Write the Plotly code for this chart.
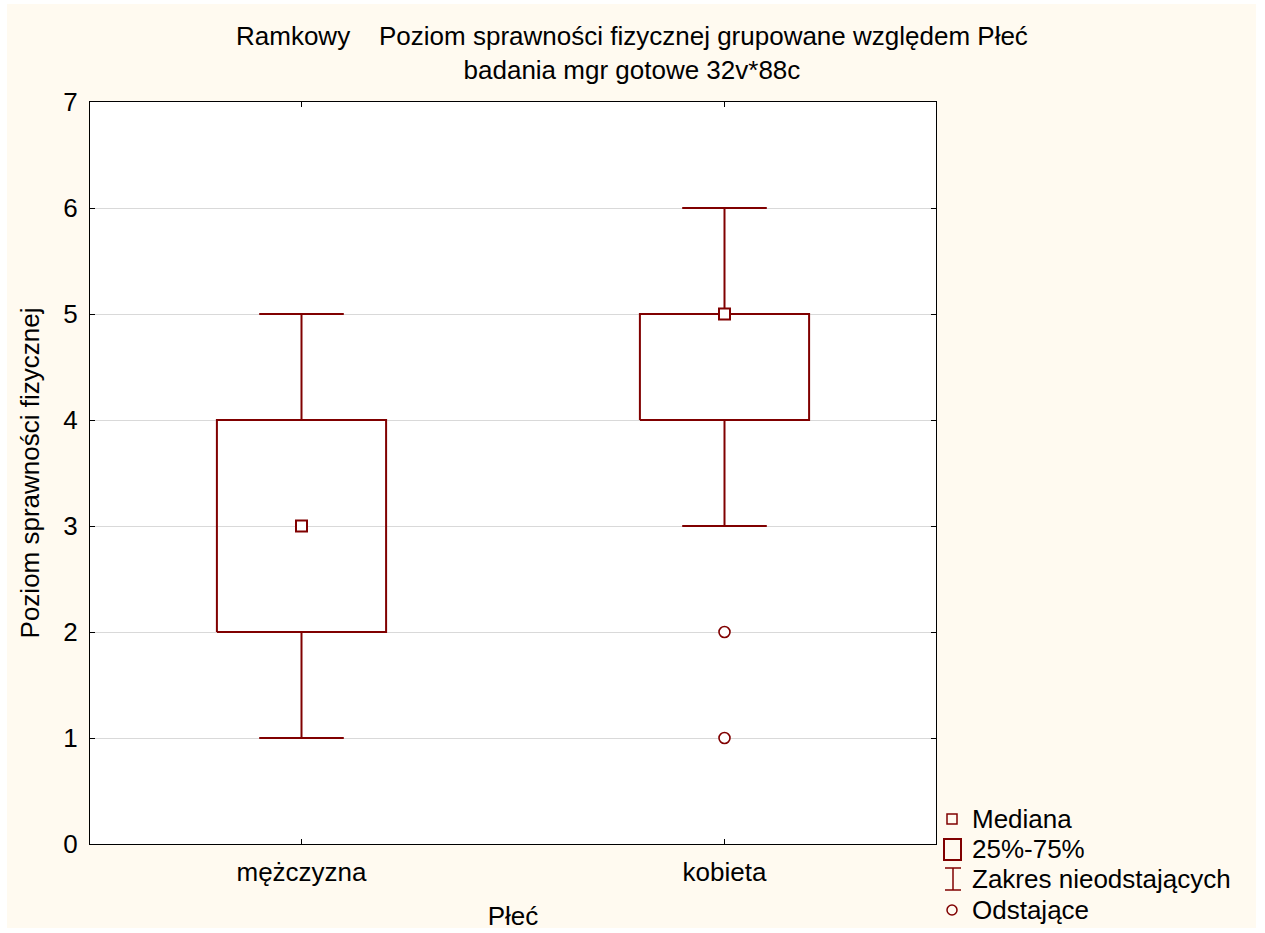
import plotly.graph_objects as go

# Box-plot summary per group
categories = ["mężczyzna", "kobieta"]
medians = [3, 5]
q1 = [2, 4]
q3 = [4, 5]
whisker_low = [1, 3]
whisker_high = [5, 6]
outlier_group = [1, 1]
outlier_values = [2, 1]

y_ticks = [0, 1, 2, 3, 4, 5, 6, 7]

RED = "#800000"
CREAM = "#FFFAF0"
FONT = "Liberation Sans, Arial, sans-serif"
FS = 26

W, H = 1265, 933
L, R, T, B = 90, 329, 102, 89
BOX_HALF = 0.2
CAP_HALF = 0.1

fig = go.Figure()

for i, cat in enumerate(categories):
    # whiskers: vertical stems and caps
    fig.add_trace(go.Scatter(
        x=[i, i, None, i, i, None, i - CAP_HALF, i + CAP_HALF, None, i - CAP_HALF, i + CAP_HALF],
        y=[q3[i], whisker_high[i], None, q1[i], whisker_low[i], None,
           whisker_high[i], whisker_high[i], None, whisker_low[i], whisker_low[i]],
        mode="lines", line=dict(color=RED, width=2), hoverinfo="skip", showlegend=False))
    # 25%-75% box
    fig.add_trace(go.Scatter(
        x=[i - BOX_HALF, i + BOX_HALF, i + BOX_HALF, i - BOX_HALF, i - BOX_HALF],
        y=[q1[i], q1[i], q3[i], q3[i], q1[i]],
        mode="lines", line=dict(color=RED, width=2), hoverinfo="skip", showlegend=False))
    # median marker
    fig.add_trace(go.Scatter(
        x=[i], y=[medians[i]], mode="markers",
        marker=dict(symbol="square", size=11, color="white", line=dict(color=RED, width=2)),
        showlegend=False))

# outliers
fig.add_trace(go.Scatter(
    x=outlier_group, y=outlier_values, mode="markers",
    marker=dict(symbol="circle", size=11, color="white", line=dict(color=RED, width=1.6)),
    showlegend=False))


def px_x(p):
    return (p - L) / (W - L - R)


def px_y(p):
    return (H - B - p) / (H - T - B)


def strip(x0, y0, x1, y1):
    return dict(type="rect", xref="paper", yref="paper",
                x0=px_x(x0), x1=px_x(x1), y0=px_y(y1), y1=px_y(y0),
                fillcolor="white", line=dict(width=0))


# thin white border around the cream page
shapes = [
    strip(0, 0, W, 4),
    strip(0, 928, W, H),
    strip(0, 0, 7, H),
    strip(1256, 0, W, H),
]

# legend drawn in page coordinates
leg_x = 952
rows = [819, 849, 879, 910]
labels = ["Mediana", "25%-75%", "Zakres nieodstających", "Odstające"]
shapes += [
    dict(type="rect", xref="paper", yref="paper",
         x0=px_x(leg_x - 5), x1=px_x(leg_x + 5), y0=px_y(rows[0] + 5), y1=px_y(rows[0] - 5),
         line=dict(color=RED, width=1.5), fillcolor="rgba(0,0,0,0)"),
    dict(type="rect", xref="paper", yref="paper",
         x0=px_x(leg_x - 8), x1=px_x(leg_x + 9), y0=px_y(rows[1] + 11), y1=px_y(rows[1] - 10),
         line=dict(color=RED, width=2), fillcolor="rgba(0,0,0,0)"),
    dict(type="line", xref="paper", yref="paper",
         x0=px_x(leg_x + 1), x1=px_x(leg_x + 1), y0=px_y(rows[2] + 11), y1=px_y(rows[2] - 11),
         line=dict(color=RED, width=1.5)),
    dict(type="line", xref="paper", yref="paper",
         x0=px_x(leg_x - 7), x1=px_x(leg_x + 9), y0=px_y(rows[2] - 11), y1=px_y(rows[2] - 11),
         line=dict(color=RED, width=1.5)),
    dict(type="line", xref="paper", yref="paper",
         x0=px_x(leg_x - 7), x1=px_x(leg_x + 9), y0=px_y(rows[2] + 11), y1=px_y(rows[2] + 11),
         line=dict(color=RED, width=1.5)),
    dict(type="circle", xref="paper", yref="paper",
         x0=px_x(leg_x - 5), x1=px_x(leg_x + 5), y0=px_y(rows[3] + 5), y1=px_y(rows[3] - 5),
         line=dict(color=RED, width=1.5), fillcolor="rgba(0,0,0,0)"),
]

annotations = []
for yy, lab in zip(rows, labels):
    annotations.append(dict(
        xref="paper", yref="paper", x=px_x(970), y=px_y(yy), text=lab,
        showarrow=False, xanchor="left", yanchor="middle",
        font=dict(family=FONT, size=FS, color="black")))

annotations.append(dict(
    xref="paper", yref="paper", x=px_x(632), y=px_y(53),
    text="Ramkowy\u00a0\u00a0\u00a0\u00a0Poziom sprawności fizycznej grupowane względem Płeć"
         "<br>badania mgr gotowe 32v*88c",
    showarrow=False, xanchor="center", yanchor="middle", align="center",
    font=dict(family=FONT, size=FS, color="black")))

fig.update_layout(
    width=W, height=H,
    margin=dict(l=L, r=R, t=T, b=B, autoexpand=False),
    paper_bgcolor=CREAM,
    plot_bgcolor="white",
    showlegend=False,
    shapes=shapes,
    annotations=annotations,
    font=dict(family=FONT, size=FS, color="black"),
    xaxis=dict(
        range=[-0.5, 1.5], tickvals=[0, 1], ticktext=categories,
        showgrid=False, zeroline=False, automargin=False,
        showline=True, linecolor="black", linewidth=1, mirror="ticks",
        ticks="inside", ticklen=5, tickcolor="black", ticklabelstandoff=5,
        title=dict(text="Płeć", standoff=20, font=dict(size=FS)),
    ),
    yaxis=dict(
        range=[0, 7], tickvals=y_ticks,
        showgrid=True, gridcolor="#D9D9D9", gridwidth=1, zeroline=False, automargin=False,
        showline=True, linecolor="black", linewidth=1, mirror="ticks",
        ticks="inside", ticklen=5, tickcolor="black", ticklabelstandoff=6,
        title=dict(text="Poziom sprawności fizycznej", standoff=16, font=dict(size=FS)),
    ),
)

fig.write_html("out.html")
